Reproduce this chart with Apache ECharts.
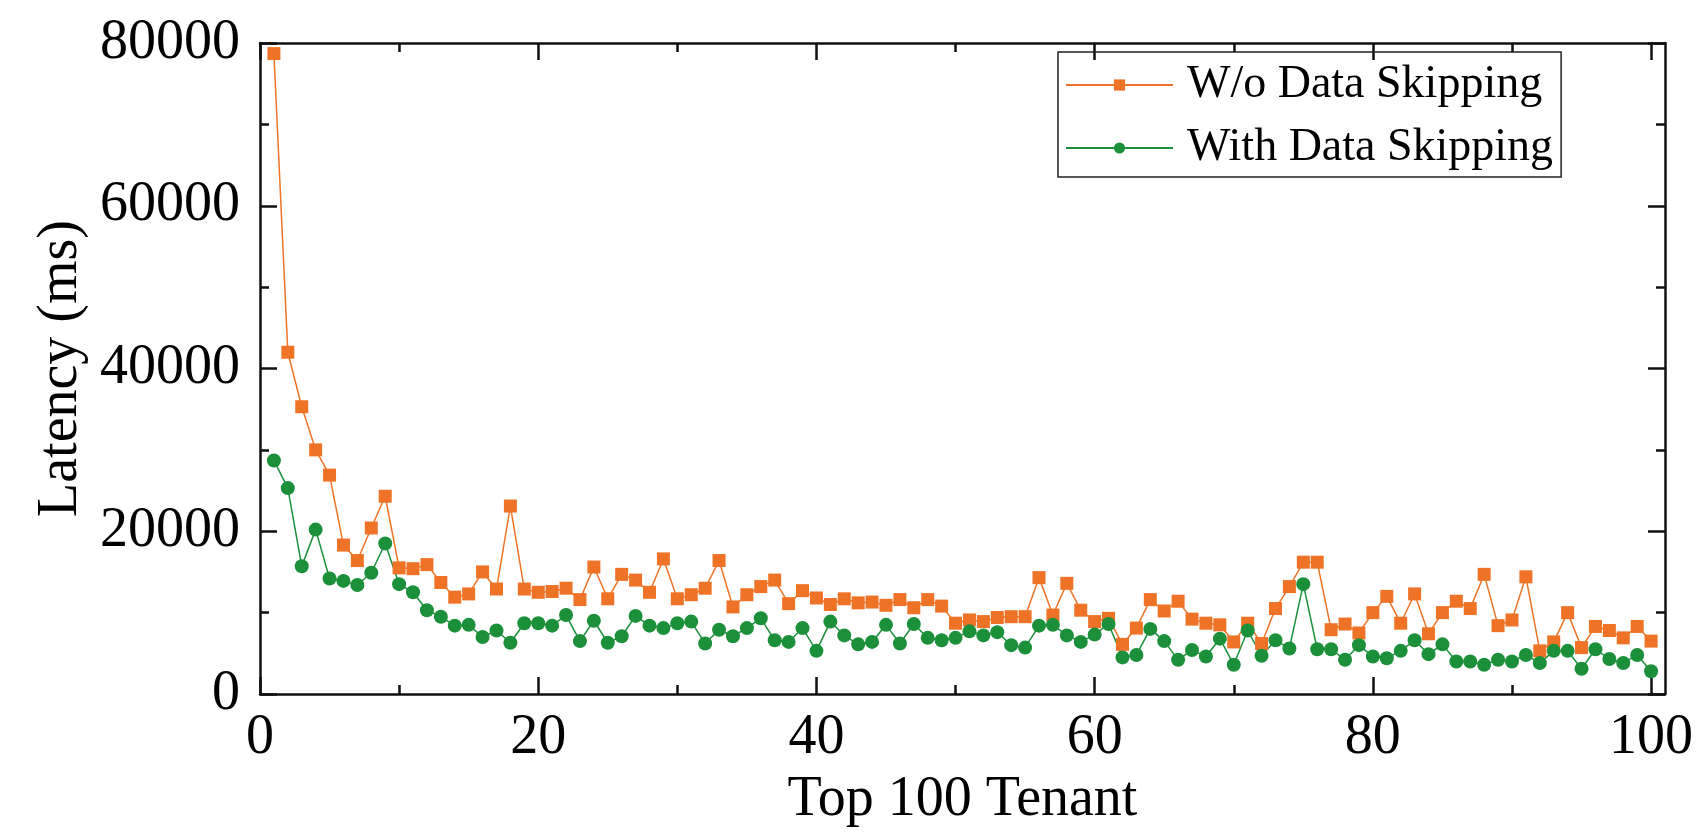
<!DOCTYPE html>
<html>
<head>
<meta charset="utf-8">
<script src="https://cdn.jsdelivr.net/npm/echarts@6/dist/echarts.min.js"></script>
<style>
html,body{margin:0;padding:0;background:#fff;}
#chart{width:1701px;height:833px;}
</style>
</head>
<body>
<div id="chart"></div>
<script>
// ---- data ----
const tenants = [1,2,3,4,5,6,7,8,9,10,11,12,13,14,15,16,17,18,19,20,
  21,22,23,24,25,26,27,28,29,30,31,32,33,34,35,36,37,38,39,40,
  41,42,43,44,45,46,47,48,49,50,51,52,53,54,55,56,57,58,59,60,
  61,62,63,64,65,66,67,68,69,70,71,72,73,74,75,76,77,78,79,80,
  81,82,83,84,85,86,87,88,89,90,91,92,93,94,95,96,97,98,99,100];

const withoutSkipping = [78700,42000,35300,30000,26900,18300,16400,20400,24300,15500,
  15400,15900,13700,11900,12300,15000,12900,23100,12900,12500,
  12600,13000,11600,15600,11700,14700,14000,12500,16600,11700,
  12200,13000,16400,10700,12200,13200,14000,11100,12700,11800,
  11000,11700,11200,11300,10900,11600,10600,11600,10800,8700,
  9100,8900,9400,9500,9500,14300,9700,13600,10300,8900,
  9300,6100,8100,11600,10200,11400,9200,8700,8500,6400,
  8700,6200,10500,13200,16200,16200,7900,8600,7500,10000,
  12000,8700,12300,7400,10000,11400,10500,14700,8400,9100,
  14400,5300,6400,10000,5700,8300,7800,6900,8300,6500];

const withSkipping = [28700,25300,15700,20200,14200,13900,13400,14900,18500,13500,
  12500,10300,9500,8400,8500,7000,7800,6300,8700,8700,
  8400,9700,6500,9000,6300,7100,9600,8400,8100,8700,
  8900,6200,7900,7100,8100,9300,6600,6400,8100,5300,
  8900,7200,6100,6400,8500,6200,8600,6900,6600,6900,
  7700,7200,7600,6000,5700,8400,8500,7200,6400,7300,
  8600,4500,4800,8000,6500,4200,5400,4600,6800,3600,
  7800,4700,6600,5600,13500,5500,5500,4200,6000,4600,
  4400,5300,6600,4900,6100,4000,4000,3600,4200,4000,
  4800,3800,5300,5300,3100,5500,4300,3800,4800,2800];

const seriesNames = ['W/o Data Skipping', 'With Data Skipping'];
const xMajorTicks = [0,20,40,60,80,100];
const xMinorTicks = [10,30,50,70,90];
const xAxisTitle = 'Top 100 Tenant';
const yAxisTitle = 'Latency (ms)';

// ---- chart ----
const FONT = '"Liberation Serif","Times New Roman",serif';
const ORANGE = '#EE7326';
const GREEN = '#1B8F3A';
const BLACK = '#111';

function pairs(xs, ys){ return xs.map((x,i)=>[x, ys[i]]); }

function xAx(position, ticks, len, showLine, showLabel, name){
  return {
    type:'value', position: position, min:0, max:101,
    splitLine:{show:false},
    axisLine:{show:showLine, onZero:false, lineStyle:{color:BLACK, width:2.5}},
    axisTick:{show:true, inside:true, length:len, customValues:ticks, lineStyle:{color:BLACK, width:2.5}},
    axisLabel:{show:showLabel, customValues:ticks, margin:16, fontFamily:FONT, fontSize:56, color:'#000',
      formatter:v=>String(v)},
    name: name || '', nameLocation:'middle', nameGap:78,
    nameTextStyle:{fontFamily:FONT, fontSize:56, color:'#000'}
  };
}
function yAx(position, showLabel, name){
  return {
    type:'value', position: position, min:0, max:80000, interval:20000,
    splitLine:{show:false},
    axisLine:{show:true, onZero:false, lineStyle:{color:BLACK, width:2.5}},
    axisTick:{show:true, inside:true, length:17, lineStyle:{color:BLACK, width:2.5}},
    minorTick:{show:true, splitNumber:2, length:9, lineStyle:{color:BLACK, width:2.5}},
    axisLabel:{show:showLabel, margin:20, fontFamily:FONT, fontSize:56, color:'#000',
      formatter:v=>String(v)},
    name: name || '', nameLocation:'middle', nameGap:155,
    nameTextStyle:{fontFamily:FONT, fontSize:56, color:'#000'}
  };
}

const chart = echarts.init(document.getElementById('chart'), null, {renderer:'canvas'});
chart.setOption({
  animation:false,
  backgroundColor:'#fff',
  grid:{left:260, right:36, top:43, bottom:126, containLabel:false},
  legend:{
    orient:'vertical', left:1058, top:52,
    padding:[10,8,6,7], itemGap:17,
    itemWidth:107, itemHeight:14,
    borderColor:'#222', borderWidth:1.5,
    textStyle:{fontFamily:FONT, fontSize:46, color:'#000', padding:[0,0,0,9]},
    data: seriesNames
  },
  xAxis:[
    xAx('bottom', xMajorTicks, 17, true, true, xAxisTitle),
    xAx('bottom', xMinorTicks, 9, false, false),
    xAx('top', xMajorTicks, 17, true, false),
    xAx('top', xMinorTicks, 9, false, false)
  ],
  yAxis:[
    yAx('left', true, yAxisTitle),
    yAx('right', false)
  ],
  series:[
    {
      name: seriesNames[0], type:'line', xAxisIndex:0, yAxisIndex:0,
      data: pairs(tenants, withoutSkipping),
      symbol:'rect', symbolSize:13, showAllSymbol:true,
      lineStyle:{color:ORANGE, width:1.5},
      itemStyle:{color:ORANGE}
    },
    {
      name: seriesNames[1], type:'line', xAxisIndex:0, yAxisIndex:0,
      data: pairs(tenants, withSkipping),
      symbol:'circle', symbolSize:14, showAllSymbol:true,
      lineStyle:{color:GREEN, width:1.5},
      itemStyle:{color:GREEN}
    }
  ]
});
</script>
</body>
</html>
